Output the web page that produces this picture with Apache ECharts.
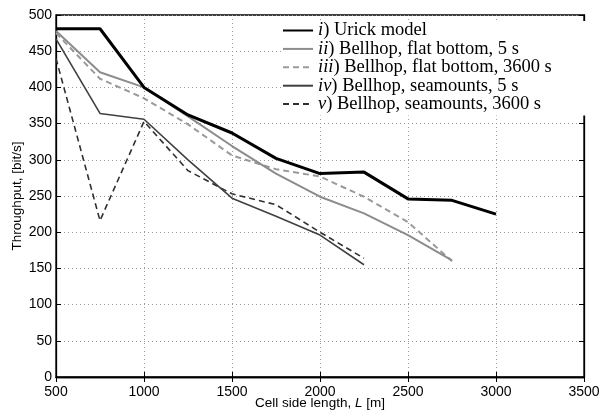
<!DOCTYPE html>
<html>
<head>
<meta charset="utf-8">
<script src="https://cdn.jsdelivr.net/npm/echarts@6/dist/echarts.min.js"></script>
<style>html,body{margin:0;padding:0;background:#fff;}#c{width:603px;height:412px;}</style>
</head>
<body>
<div id="c"></div>
<script>
var cellLengths = [500, 750, 1000, 1250, 1500, 1750, 2000, 2250, 2500, 2750, 3000];
var urick      = [481, 481, 400, 362, 337, 302, 281, 283, 246, 244, 225];
var flat5      = [478, 421, 400, 360, 319, 281, 249, 226, 196, 161, null];
var flat3600   = [475, 412, 385, 349, 306, 287, 277, 249, 214, 160, null];
var sea5       = [467, 364, 356, 300, 247, 222, 196, 155, null, null, null];
var sea3600    = [440, 216, 353, 285, 253, 238, 200, 164, null, null, null];
var xTicks = [500, 1000, 1500, 2000, 2500, 3000, 3500];
var yTicks = [0, 50, 100, 150, 200, 250, 300, 350, 400, 450, 500];
var names = ['i) Urick model', 'ii) Bellhop, flat bottom, 5 s', 'iii) Bellhop, flat bottom, 3600 s', 'iv) Bellhop, seamounts, 5 s', 'v) Bellhop, seamounts, 3600 s'];

function pairs(arr) {
  var out = [];
  for (var i = 0; i < cellLengths.length; i++) {
    if (arr[i] !== null) out.push([cellLengths[i], arr[i]]);
  }
  return out;
}
var styles = [
  {color: '#000000', width: 3, type: 'solid'},
  {color: '#8c8c8c', width: 2, type: 'solid'},
  {color: '#9a9a9a', width: 2, type: [6, 4]},
  {color: '#404040', width: 1.6, type: 'solid'},
  {color: '#303030', width: 1.6, type: [6, 4]}
];
var datas = [urick, flat5, flat3600, sea5, sea3600];
var series = datas.map(function (d, k) {
  return {
    name: names[k], type: 'line', data: pairs(d), symbol: 'none', showSymbol: false,
    lineStyle: styles[k], itemStyle: {color: styles[k].color},
    z: 10 - k, animation: false
  };
});
var fontSans = 'Liberation Sans';
var chart = echarts.init(document.getElementById('c'));
chart.setOption({
  animation: false,
  backgroundColor: '#fff',
  grid: {left: 56, right: 19, top: 15, bottom: 35, show: true, borderColor: '#000', borderWidth: 1.3,
         backgroundColor: 'transparent', containLabel: false, outerBoundsMode: 'none'},
  legend: {
    orient: 'vertical', left: 282, top: 21, itemWidth: 30, itemHeight: 14, itemGap: -0.6,
    backgroundColor: '#fff', padding: [0, 40, 2, 0], z: 20,
    itemStyle: {opacity: 0},
    data: names,
    formatter: function (n) {
      var idx = n.indexOf(')');
      return '{it|' + n.slice(0, idx) + '}{r|' + n.slice(idx) + '}';
    },
    textStyle: {
      fontFamily: 'Liberation Serif', fontSize: 18.5, color: '#000', lineHeight: 18,
      rich: {
        it: {fontFamily: 'Liberation Serif', fontStyle: 'italic', fontSize: 18.5, lineHeight: 18, color: '#000'},
        r: {fontFamily: 'Liberation Serif', fontSize: 18.5, lineHeight: 18, color: '#000'}
      }
    }
  },
  xAxis: [{
    type: 'value', min: 500, max: 3500, interval: 500,
    name: '{a|Cell side length, }{b|L}{a| [m]}', nameLocation: 'middle', nameGap: 19, nameMoveOverlap: false,
    nameTextStyle: {rich: {a: {fontFamily: fontSans, fontSize: 13.5, color: '#000'}, b: {fontFamily: fontSans, fontSize: 13.5, fontStyle: 'italic', color: '#000'}}},
    axisLine: {show: true, lineStyle: {color: '#000', width: 1.3}},
    axisTick: {show: true, inside: true, length: 5, lineStyle: {color: '#000'}},
    axisLabel: {fontFamily: fontSans, fontSize: 14, color: '#000', margin: 8,
      formatter: function (v) { return xTicks.indexOf(v) >= 0 ? String(v) : ''; }},
    splitLine: {show: true, lineStyle: {color: '#999', type: [1, 3], width: 1}}
  }, {
    type: 'value', position: 'top', min: 500, max: 3500, interval: 500,
    axisLine: {show: true, lineStyle: {color: '#000', width: 1.3}},
    axisTick: {show: true, inside: true, length: 5, lineStyle: {color: '#000'}},
    axisLabel: {show: false}, splitLine: {show: false}
  }],
  yAxis: [{
    type: 'value', min: 0, max: 500, interval: 50,
    name: 'Throughput, [bit/s]', nameLocation: 'middle', nameGap: 32, nameMoveOverlap: false,
    nameTextStyle: {fontFamily: fontSans, fontSize: 13.5, color: '#000'},
    axisLine: {show: true, lineStyle: {color: '#000', width: 1.3}},
    axisTick: {show: true, inside: true, length: 5, lineStyle: {color: '#000'}},
    axisLabel: {fontFamily: fontSans, fontSize: 14, color: '#000', margin: 4,
      formatter: function (v) { return yTicks.indexOf(v) >= 0 ? String(v) : ''; }},
    splitLine: {show: true, lineStyle: {color: '#999', type: [1, 3], width: 1}}
  }, {
    type: 'value', position: 'right', min: 0, max: 500, interval: 50,
    axisLine: {show: true, lineStyle: {color: '#000', width: 1.3}},
    axisTick: {show: true, inside: true, length: 5, lineStyle: {color: '#000'}},
    axisLabel: {show: false}, splitLine: {show: false}
  }],
  series: series
});
</script>
</body>
</html>
